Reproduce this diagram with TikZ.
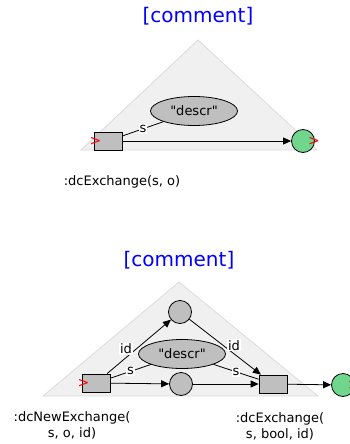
\documentclass[tikz,border=0pt]{standalone}
\usepackage{fontspec}
\setmainfont{DejaVu Sans}
\usetikzlibrary{arrows.meta,shapes.geometric}

\definecolor{tokengreen}{RGB}{112,214,142}

\begin{document}
\begin{tikzpicture}[
        x=1pt, y=-1pt,
        font=\fontsize{13}{16}\selectfont,
        trans/.style={rectangle,draw,fill=black!25,minimum width=28pt,
            minimum height=18pt, inner sep=0pt, line width=0.8pt},
        place/.style={circle,draw,fill=#1,minimum size=23pt,
            inner sep=0pt, line width=0.8pt},
        place/.default=black!25,
        datum/.style={ellipse,draw,fill=black!25,minimum width=87pt,
            minimum height=29pt, inner sep=0pt, line width=0.8pt},
        arc/.style={line width=0.8pt,-{Triangle[length=8pt,width=7pt]}},
        link/.style={line width=0.8pt},
        lbl/.style={fill=white,inner sep=1pt},
        region/.style={fill=black!6,draw=black!14,line width=0.8pt},
        port/.style={text=red,inner sep=0pt,font=\fontsize{14}{16}\selectfont},
        cmt/.style={text=blue,font=\fontsize{20}{22}\selectfont}
    ]
        \useasboundingbox (0, 0) rectangle (350, 444);

        % upper net
        \node[cmt] (cmtA) at (198, 16) {[comment]};
        \filldraw[region] (198, 40) -- (317, 150) -- (81, 150) -- cycle;
        \node[datum] (descrA) at (194, 111) {\textquotedbl descr\textquotedbl};
        \node[trans] (exA) at (108, 141) {};
        \node[place=tokengreen] (outA) at (303, 141) {};
        \node[port] at ([xshift=2pt]exA.west) {>};
        \node[port] at ([xshift=-1pt]outA.east) {>};
        \draw[link] (exA) -- node[lbl] {s} (descrA);
        \draw[arc] (exA) -- (outA);
        \node (nameA) at (122, 182) {:dcExchange(s, o)};

        % lower net
        \node[cmt] (cmtB) at (179, 260) {[comment]};
        \filldraw[region] (179, 282) -- (318, 396) -- (43, 396) -- cycle;
        \node[place] (topB) at (180, 312) {};
        \node[datum] (descrB) at (182, 354) {\textquotedbl descr\textquotedbl};
        \node[trans] (newB) at (96, 383) {};
        \node[place] (midB) at (181, 384) {};
        \node[trans] (exB) at (273, 384) {};
        \node[place=tokengreen] (outB) at (343, 385) {};
        \node[port] at ([xshift=2pt]newB.west) {>};
        \node[port] at ([xshift=-1pt]outB.east) {>};
        \draw[arc] (newB) -- node[lbl, pos=0.38, above left=-2pt] {id} (topB);
        \draw[arc] (topB) -- node[lbl, pos=0.55, above right=-2pt] {id} (exB);
        \draw[link] (newB) -- node[lbl] {s} (descrB);
        \draw[link] (descrB) -- node[lbl] {s} (exB);
        \draw[arc] (newB) -- (midB);
        \draw[arc] (midB) -- (exB);
        \draw[arc] (exB) -- (outB);
        \node[align=center] (nameB) at (72, 425) {:dcNewExchange(\\s, o, id)};
        \node[align=center] (nameC) at (280, 426) {:dcExchange(\\s, bool, id)};
    \end{tikzpicture}
\end{document}
